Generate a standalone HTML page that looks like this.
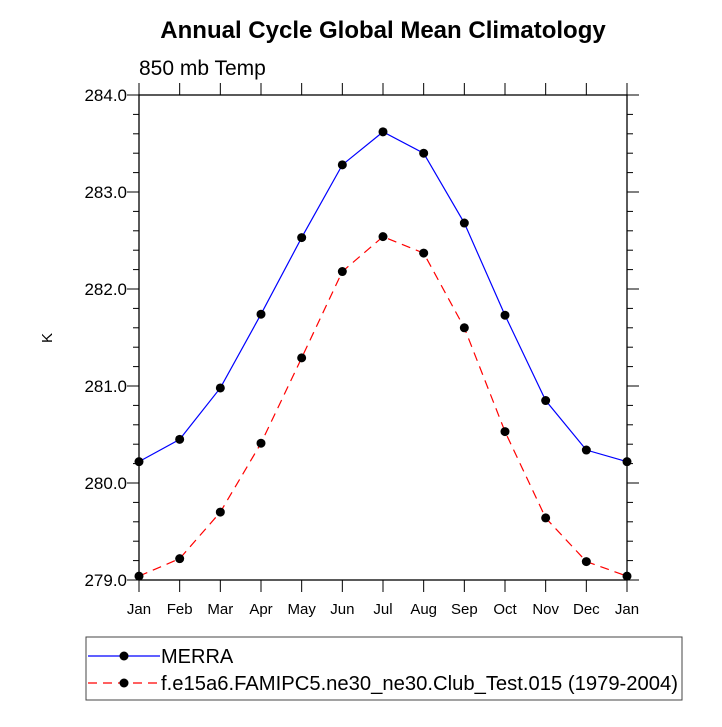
<!DOCTYPE html>
<html><head><meta charset="utf-8"><style>
body{margin:0;background:#fff;}
svg text{font-family:"Liberation Sans",sans-serif;}
</style></head><body>
<svg width="722" height="722" id="svg">
<text x="383" y="38" text-anchor="middle" font-size="24" font-weight="bold">Annual Cycle Global Mean Climatology</text>
<text x="139" y="75" font-size="21">850 mb Temp</text>
<text x="52" y="338" font-size="15" text-anchor="middle" transform="rotate(-90 52 338)">K</text>
<g id="axes"></g>
<g id="series"></g>
<rect x="86" y="637" width="596" height="63" fill="none" stroke="#444" stroke-width="1"/>
<g>
<line x1="88" y1="656" x2="160" y2="656" stroke="#00f" stroke-width="1.2"/>
<circle cx="124" cy="656" r="4.5" fill="#000"/>
<text x="161" y="663" font-size="20">MERRA</text>
</g>
<g>
<line x1="88" y1="683" x2="160" y2="683" stroke="#f00" stroke-width="1.2" stroke-dasharray="9,6"/>
<circle cx="124" cy="683" r="4.5" fill="#000"/>
<text x="161" y="690" font-size="20" textLength="517" lengthAdjust="spacingAndGlyphs">f.e15a6.FAMIPC5.ne30_ne30.Club_Test.015 (1979-2004)</text>
</g>
</svg>
<script>
const months=["Jan","Feb","Mar","Apr","May","Jun","Jul","Aug","Sep","Oct","Nov","Dec","Jan"];
const merra=[280.22,280.45,280.98,281.74,282.53,283.28,283.62,283.40,282.68,281.73,280.85,280.34,280.22];
const model=[279.04,279.22,279.70,280.41,281.29,282.18,282.54,282.37,281.60,280.53,279.64,279.19,279.04];
const yTicks=["279.0","280.0","281.0","282.0","283.0","284.0"];
const L=139,R=627,T=95,B=580,ymin=279,ymax=284;
const xs=i=>L+(R-L)*i/(months.length-1);
const ys=v=>B-(v-ymin)/(ymax-ymin)*(B-T);
const NS="http://www.w3.org/2000/svg";
function mk(tag,at,parent){const e=document.createElementNS(NS,tag);for(const k in at)e.setAttribute(k,at[k]);parent.appendChild(e);return e;}
const ax=document.getElementById('axes');
let fr=mk('rect',{x:L,y:T,width:R-L,height:B-T,fill:'none',stroke:'#000','stroke-width':1.3},ax);


for(let v=ymin;v<=ymax+1e-9;v+=0.2){
  const y=ys(v);const maj=Math.abs(v-Math.round(v))<1e-6;const len=maj?12:6;
  mk('line',{x1:L-len,y1:y,x2:L,y2:y,stroke:'#000','stroke-width':1},ax);
  mk('line',{x1:R,y1:y,x2:R+len,y2:y,stroke:'#000','stroke-width':1},ax);
}
yTicks.forEach(t=>{
  const e=mk('text',{x:L-12,y:ys(parseFloat(t))+6,'text-anchor':'end','font-size':17},ax);
  e.textContent=t;
  
  
});
months.forEach((m,i)=>{
  const x=xs(i);
  mk('line',{x1:x,y1:B,x2:x,y2:B+12,stroke:'#000','stroke-width':1},ax);
  mk('line',{x1:x,y1:T-12,x2:x,y2:T,stroke:'#000','stroke-width':1},ax);
  const e=mk('text',{x:x,y:B+34,'text-anchor':'middle','font-size':15},ax);
  e.textContent=m;
  
  
});
const sg=document.getElementById('series');
function draw(vals,color,dash,name){
  const g=mk('g',{},sg);
  
  
  const pts=vals.map((v,i)=>xs(i)+','+ys(v)).join(' ');
  const p=mk('polyline',{points:pts,fill:'none',stroke:color,'stroke-width':1.2},g);
  if(dash)p.setAttribute('stroke-dasharray',dash);
  
  
  vals.forEach((v,i)=>{
    const c=mk('circle',{cx:xs(i),cy:ys(v),r:4.5,fill:'#000'},g);
    
    
  });
}
draw(merra,'#00f',null,'merra-series');
draw(model,'#f00','9,6','model-series');
</script>
</body></html>
